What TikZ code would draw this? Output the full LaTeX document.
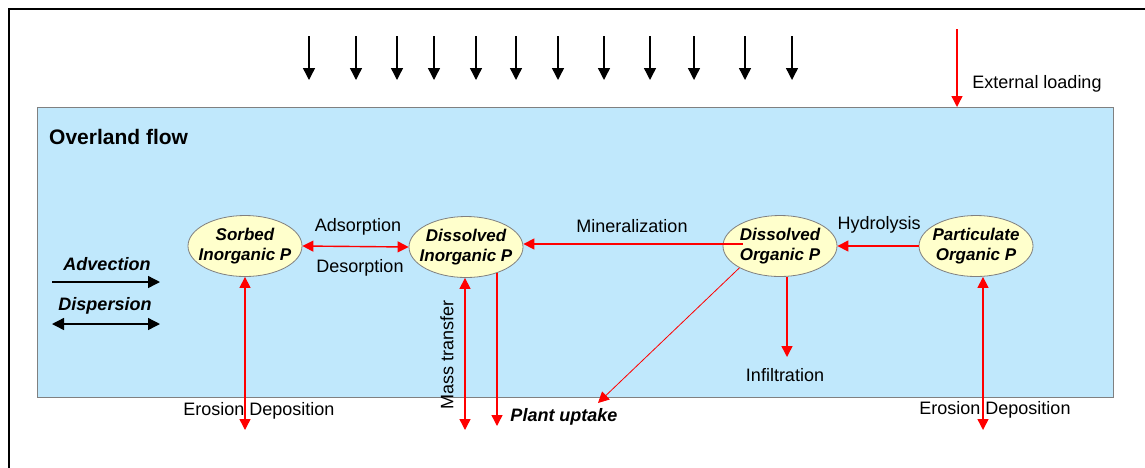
\documentclass[tikz,border=0pt]{standalone}
\usepackage{fontspec}
\setmainfont{Liberation Sans}
\definecolor{flow_blue}{RGB}{192, 232, 252}
\definecolor{pool_yellow}{RGB}{255, 255, 204}
\definecolor{flux_red}{RGB}{255, 0, 0}
\definecolor{edge_gray}{RGB}{128, 128, 128}
\usetikzlibrary{arrows.meta, shapes.geometric, calc}

\begin{document}
\begin{tikzpicture}[x=1pt, y=-1pt,
    every node/.style={font=\fontsize{18}{20}\selectfont, inner sep=0pt},
    pool/.style={ellipse, draw=edge_gray, fill=pool_yellow, line width=0.8pt,
      inner xsep=-10pt, inner ysep=0pt,
      minimum width=114pt, minimum height=61pt, align=center,
      font=\fontsize{17}{20}\selectfont\bfseries\itshape},
    bolditalic/.style={font=\fontsize{18}{20}\selectfont\bfseries\itshape},
    flux/.style={draw=flux_red, line width=1.4pt, -{Triangle[length=11pt, width=11pt]}},
    fluxboth/.style={flux, {Triangle[length=11pt, width=11pt]}-{Triangle[length=11pt, width=11pt]}},
    rain/.style={line width=1.4pt, -{Triangle[length=12pt, width=12pt]}}]
        \useasboundingbox (0,0) rectangle (1145,467);

        % Cadre
        \draw[line width=2pt] (9,470) -- (9,9) -- (1150,9);

        % Overland flow
        \node[draw=edge_gray, fill=flow_blue, line width=1pt, anchor=north west,
          minimum width=1076pt, minimum height=290pt] (flow) at (37,107) {};
        \node[anchor=west, font=\fontsize{21}{24}\selectfont\bfseries] (title) at (49,137) {Overland flow};

        % Pluie
        \foreach \x [count=\i] in {309,356,397,434,476,516,558,604,650,694,745,792} {
          \coordinate (rain\i) at (\x,36);
          \draw[rain] (rain\i) -- ++(0,44);
        }

        % External loading
        \coordinate (ext) at (957,29);
        \draw[flux] (ext) -- (ext |- flow.north);
        \node (extlabel) at (1037,84) {External loading};

        % Advection / dispersion
        \node[bolditalic] (adv) at (107,264) {Advection};
        \coordinate (adv0) at (52,282);
        \coordinate (adv1) at (160,282);
        \draw[rain] (adv0) -- (adv1);
        \node[bolditalic] (disp) at (105,306) {Dispersion};
        \coordinate (disp0) at (52,324);
        \coordinate (disp1) at (160,324);
        \draw[rain, {Triangle[length=12pt, width=12pt]}-{Triangle[length=12pt, width=12pt]}] (disp0) -- (disp1);

        % Compartiments de P
        \node[pool] (sip) at (245,246) {Sorbed\\Inorganic P};
        \node[pool] (dip) at (466,247) {Dissolved\\Inorganic P};
        \node[pool] (dop) at (780,246) {Dissolved\\Organic P};
        \node[pool] (pop) at (976,246) {Particulate\\Organic P};

        % Adsorption / desorption
        \draw[fluxboth] (sip.east) -- (dip.west);
        \node (ads) at (358,227) {Adsorption};
        \node (des) at (360,268) {Desorption};

        % Mineralization
        \coordinate (min0) at (743,244);
        \draw[flux] (min0) -- (min0 -| dip.east);
        \node (minl) at (632,226) {Mineralization};

        % Hydrolysis
        \draw[flux] (pop.west) -- (dop.east);
        \node (hyd) at (879,225) {Hydrolysis};

        % Erosion / deposition
        \coordinate (sed1) at (245,430);
        \draw[fluxboth] (sip.south) -- (sed1);
        \node (ero1) at (259,411) {Erosion Deposition};
        \coordinate (sed2) at (983,430);
        \draw[fluxboth] (pop.south -| sed2) -- (sed2);
        \node (ero2) at (995,410) {Erosion Deposition};

        % Mass transfer
        \coordinate (mt) at (465,430);
        \draw[fluxboth] (dip.south -| mt) -- (mt);
        \node[rotate=90] (mtl) at (447,355) {Mass transfer};

        % Plant uptake
        \coordinate (pu) at (497,426);
        \draw[flux] (dip.-39 -| pu) -- (pu);
        \coordinate (pd) at (598,403);
        \draw[flux, line width=0.8pt] (dop.south west) -- (pd);
        \node[bolditalic] (plant) at (564,417) {Plant uptake};

        % Infiltration
        \coordinate (inf) at (787,357);
        \draw[flux] (dop.south -| inf) -- (inf);
        \node (infl) at (785,375) {Infiltration};
      \end{tikzpicture}
\end{document}
